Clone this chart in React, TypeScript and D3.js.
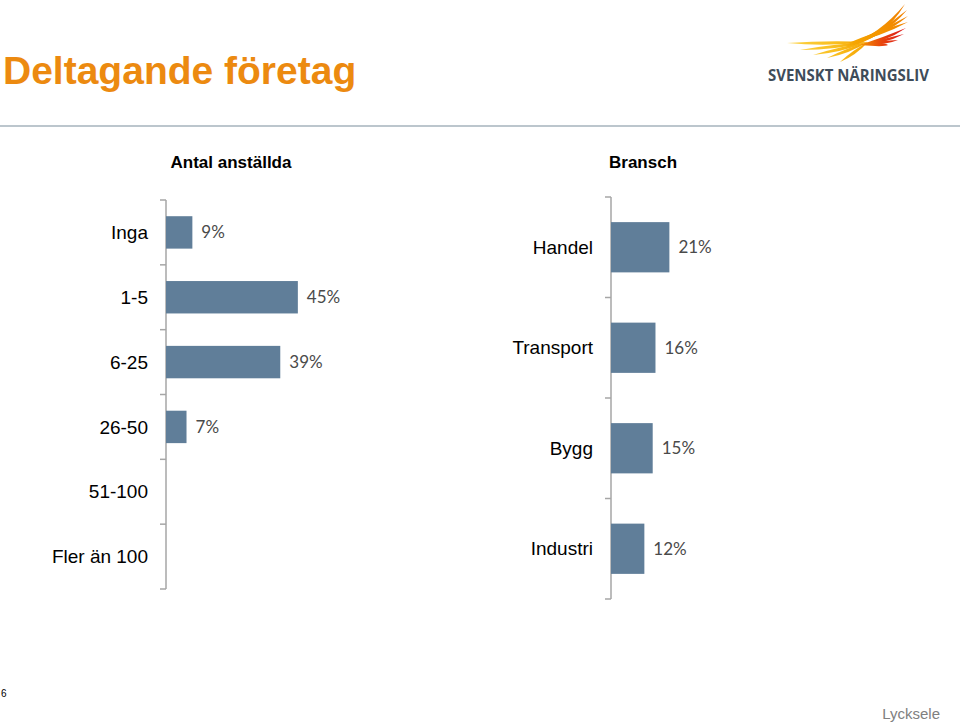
import React from "react";
import * as d3 from "d3";

const sizeCats = ["Inga", "1-5", "6-25", "26-50", "51-100", "Fler än 100"];
const sizeVals: (number | null)[] = [9, 45, 39, 7, null, null];

const branchCats = ["Handel", "Transport", "Bygg", "Industri"];
const branchVals = [21, 16, 15, 12];

const title = "Deltagande företag";
const leftHeader = "Antal anställda";
const rightHeader = "Bransch";
const logoText = "SVENSKT NÄRINGSLIV";
const footerLeft = "6";
const footerRight = "Lycksele";

const BAR = "#607e99";
const AXIS = "#a6a6a6";
const VAL_FONT = "Lato, 'Open Sans', sans-serif";
const CAT_FONT = "'Liberation Sans', Arial, sans-serif";

function Panel({
  cats,
  vals,
  x0,
  pxPerPct,
  y0,
  y1,
}: {
  cats: string[];
  vals: (number | null)[];
  x0: number;
  pxPerPct: number;
  y0: number;
  y1: number;
}) {
  const y = d3.scaleBand<string>().domain(cats).range([y0, y1]).paddingInner(0.5).paddingOuter(0.25);
  const x = d3.scaleLinear().domain([0, 10]).range([x0, x0 + 10 * pxPerPct]);
  const step = y.step();
  const boundaries = d3.range(cats.length + 1).map((i) => y0 + i * step);
  return (
    <g>
      <line x1={x0} x2={x0} y1={y0} y2={y1} stroke={AXIS} strokeWidth={1.5} />
      {boundaries.map((b, i) => (
        <line key={i} x1={x0 - 6} x2={x0} y1={b} y2={b} stroke={AXIS} strokeWidth={1.5} />
      ))}
      {cats.map((c, i) => {
        const v = vals[i];
        const yc = (y(c) as number) + y.bandwidth() / 2;
        return (
          <g key={c}>
            <text
              x={x0 - 18}
              y={yc}
              dy="0.35em"
              textAnchor="end"
              fontFamily={CAT_FONT}
              fontSize={19}
              fill="#000"
            >
              {c}
            </text>
            {v != null && (
              <>
                <rect x={x(0)} y={y(c)} width={x(v) - x(0)} height={y.bandwidth()} fill={BAR} />
                <text
                  x={x(v) + 9}
                  y={yc}
                  dy="0.35em"
                  fontFamily={VAL_FONT}
                  fontSize={17}
                  fill="#4a4a4a"
                >
                  {v}%
                </text>
              </>
            )}
          </g>
        );
      })}
    </g>
  );
}

// lens-shaped feather between two points, bulging around a control point
function feather(sx: number, sy: number, cx: number, cy: number, ex: number, ey: number, w: number) {
  const dx = ex - sx;
  const dy = ey - sy;
  const len = Math.hypot(dx, dy) || 1;
  const nx = (-dy / len) * w;
  const ny = (dx / len) * w;
  return `M${sx},${sy} Q${cx + nx},${cy + ny} ${ex},${ey} Q${cx - nx},${cy - ny} ${sx},${sy} Z`;
}

function Logo() {
  const hub = [868, 42];
  const leftTips = [
    [787, 43],
    [800, 50],
    [813, 55],
    [827, 58],
    [840, 62],
  ];
  const upperTips = [
    [905, 4],
    [907, 10],
    [908, 16],
    [908, 22],
  ];
  const redTips = [
    [906, 28],
    [904, 34],
    [898, 40],
    [888, 45],
  ];
  return (
    <g>
      <defs>
        <linearGradient id="gY" gradientUnits="userSpaceOnUse" x1={785} y1={0} x2={870} y2={0}>
          <stop offset="0" stopColor="#fcd447" />
          <stop offset="0.6" stopColor="#f9be1e" />
          <stop offset="1" stopColor="#f5a000" />
        </linearGradient>
        <linearGradient id="gO" gradientUnits="userSpaceOnUse" x1={850} y1={45} x2={906} y2={5}>
          <stop offset="0" stopColor="#f6a800" />
          <stop offset="1" stopColor="#f07d00" />
        </linearGradient>
        <linearGradient id="gR" gradientUnits="userSpaceOnUse" x1={862} y1={0} x2={906} y2={0}>
          <stop offset="0" stopColor="#f28c00" />
          <stop offset="0.45" stopColor="#e8450c" />
          <stop offset="1" stopColor="#d9131b" />
        </linearGradient>
      </defs>
      {leftTips.map(([sx, sy], i) => (
        <path
          key={"l" + i}
          d={feather(sx, sy, (sx + hub[0]) / 2, (sy + hub[1]) / 2 + 1, hub[0], hub[1], 3.2)}
          fill="url(#gY)"
        />
      ))}
      {upperTips.map(([ex, ey], i) => (
        <path
          key={"u" + i}
          d={feather(846, 47 - i, 882 - i, 37 - i, ex, ey, 3.6)}
          fill="url(#gO)"
        />
      ))}
      {redTips.map(([ex, ey], i) => (
        <path
          key={"r" + i}
          d={feather(860, 45, 884, 40 + i * 1.5, ex, ey, 2.8)}
          fill="url(#gR)"
        />
      ))}
      <text
        x={768}
        y={81}
        fontFamily="'Open Sans', 'DejaVu Sans', sans-serif"
        fontWeight={700}
        fontSize={16}
        fill="#3e4c59"
        textLength={161}
        lengthAdjust="spacingAndGlyphs"
      >
        {logoText}
      </text>
    </g>
  );
}

export default function App() {
  React.useEffect(() => {
    document.body.style.margin = "0";
  }, []);
  return (
    <svg
      width={960}
      height={722}
      style={{ position: "absolute", left: 0, top: 0, display: "block", background: "#fff" }}
    >
      <rect width={960} height={722} fill="#fff" />
      <text x={3} y={84} fontFamily={CAT_FONT} fontWeight={700} fontSize={39} fill="#ec8a10">
        {title}
      </text>
      <Logo />
      <line x1={0} x2={960} y1={126} y2={126} stroke="#bcc6cd" strokeWidth={2} />
      <text x={231} y={168} textAnchor="middle" fontFamily={CAT_FONT} fontWeight={700} fontSize={17}>
        {leftHeader}
      </text>
      <text x={643} y={168} textAnchor="middle" fontFamily={CAT_FONT} fontWeight={700} fontSize={17}>
        {rightHeader}
      </text>
      <Panel cats={sizeCats} vals={sizeVals} x0={166} pxPerPct={2.93} y0={200} y1={589} />
      <Panel cats={branchCats} vals={branchVals} x0={611} pxPerPct={2.78} y0={197} y1={599} />
      <text x={1} y={697} fontFamily={CAT_FONT} fontSize={10} fill="#000">
        {footerLeft}
      </text>
      <text x={940} y={719} textAnchor="end" fontFamily={CAT_FONT} fontSize={15} fill="#808080">
        {footerRight}
      </text>
    </svg>
  );
}
